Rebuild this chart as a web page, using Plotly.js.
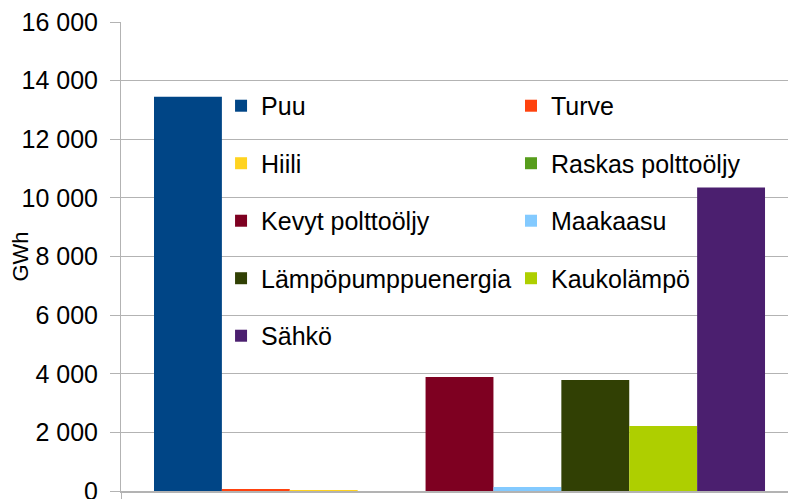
<!DOCTYPE html>
<html>
<head>
<meta charset="utf-8">
<script src="https://cdn.plot.ly/plotly-3.0.1.min.js"></script>
<style>html,body{margin:0;padding:0;background:#fff;}#chart{width:788px;height:499px;}</style>
</head>
<body>
<div id="chart"></div>
<script>
const seriesNames = ["Puu", "Turve", "Hiili", "Raskas polttoöljy", "Kevyt polttoöljy", "Maakaasu", "Lämpöpumppuenergia", "Kaukolämpö", "Sähkö"];
const seriesValues = [13450, 70, 35, 0, 3890, 140, 3790, 2220, 10350];
const seriesColors = ["#004586", "#ff420e", "#ffd320", "#579d1c", "#7e0021", "#83caff", "#314004", "#aecf00", "#4b1f6f"];
const category = [""];
const yTickValues = [0, 2000, 4000, 6000, 8000, 10000, 12000, 14000, 16000];
const yTitle = "GWh";

const FONT = "Liberation Sans, Arial, sans-serif";

const traces = seriesNames.map((name, i) => ({
  type: "bar",
  name: name,
  x: category,
  y: [seriesValues[i]],
  marker: { color: seriesColors[i], line: { color: seriesColors[i], width: 0 } },
  legend: (i % 2 === 0) ? "legend" : "legend2",
  legendgroup: "g" + i,
  hoverinfo: "name+y"
}));

const legendCommon = {
  font: { family: FONT, size: 25, color: "#000" },
  bgcolor: "rgba(0,0,0,0)",
  borderwidth: 0,
  traceorder: "grouped",
  tracegroupgap: 22,
  orientation: "v",
  yanchor: "top",
  xanchor: "left",
  itemclick: false,
  itemdoubleclick: false
};

const layout = {
  width: 788,
  height: 499,
  margin: { l: 121, r: 0, t: 22, b: 8, pad: 0 },
  paper_bgcolor: "#ffffff",
  plot_bgcolor: "#ffffff",
  font: { family: FONT, size: 25, color: "#000" },
  barmode: "group",
  bargap: 0.0975,
  bargroupgap: 0,
  showlegend: true,
  xaxis: {
    type: "category",
    range: [-0.5, 0.4852],
    showticklabels: false,
    tickson: "boundaries",
    ticks: "outside",
    ticklen: 8,
    tickcolor: "#b3b3b3",
    showgrid: false,
    showline: true,
    linecolor: "#b3b3b3",
    linewidth: 2,
    zeroline: false,
    fixedrange: true
  },
  yaxis: {
    range: [0, 16000],
    tickvals: yTickValues,
    tickformat: ",d",
    separatethousands: true,
    ticks: "outside",
    ticklen: 10,
    tickcolor: "#b3b3b3",
    ticklabelstandoff: 7,
    ticklabeloverflow: "allow",
    tickfont: { family: FONT, size: 25, color: "#000" },
    showgrid: true,
    gridcolor: "#b3b3b3",
    gridwidth: 1,
    showline: true,
    linecolor: "#b3b3b3",
    linewidth: 1,
    zeroline: false,
    fixedrange: true
  },
  separators: ", ",
  legend: Object.assign({}, legendCommon, { x: 0.15, y: 0.87 }),
  legend2: Object.assign({}, legendCommon, { x: 0.5847, y: 0.87 }),
  annotations: [{
    text: yTitle,
    textangle: -90,
    xref: "paper", yref: "paper",
    x: -0.1514, y: 0.5,
    xanchor: "center", yanchor: "middle",
    showarrow: false,
    font: { family: FONT, size: 22, color: "#000" }
  }]
};

Plotly.newPlot("chart", traces, layout, { displayModeBar: false, staticPlot: true });
</script>
</body>
</html>
